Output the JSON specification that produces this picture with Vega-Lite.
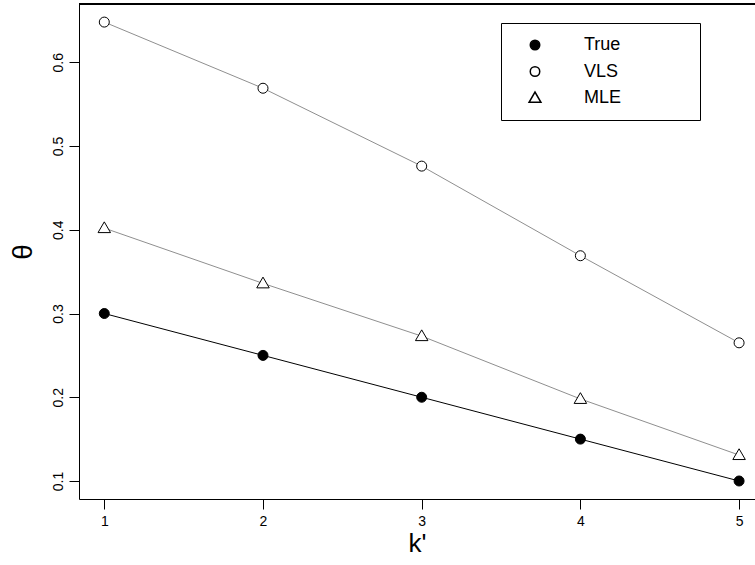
{
  "$schema": "https://vega.github.io/schema/vega-lite/v6.json",
  "width": 676,
  "height": 495,
  "autosize": {"type": "none"},
  "padding": {"left": 79, "top": 4, "right": 0, "bottom": 66},
  "background": "white",
  "config": {
    "view": {"stroke": null},
    "font": "Liberation Sans",
    "axis": {
      "grid": false,
      "domainColor": "black",
      "domainWidth": 1,
      "tickColor": "black",
      "tickWidth": 1,
      "tickSize": 10,
      "labelColor": "black",
      "labelFontSize": 14,
      "titleColor": "black",
      "titleFontWeight": "normal",
      "titleFont": "Liberation Sans"
    }
  },
  "data": {
    "values": [
      {"k": 1, "series": "True", "theta": 0.3},
      {"k": 2, "series": "True", "theta": 0.25},
      {"k": 3, "series": "True", "theta": 0.2},
      {"k": 4, "series": "True", "theta": 0.15},
      {"k": 5, "series": "True", "theta": 0.1},
      {"k": 1, "series": "VLS", "theta": 0.648},
      {"k": 2, "series": "VLS", "theta": 0.569},
      {"k": 3, "series": "VLS", "theta": 0.476},
      {"k": 4, "series": "VLS", "theta": 0.369},
      {"k": 5, "series": "VLS", "theta": 0.265},
      {"k": 1, "series": "MLE", "theta": 0.402},
      {"k": 2, "series": "MLE", "theta": 0.336},
      {"k": 3, "series": "MLE", "theta": 0.273},
      {"k": 4, "series": "MLE", "theta": 0.198},
      {"k": 5, "series": "MLE", "theta": 0.131}
    ]
  },
  "layer": [
    {
      "mark": {"type": "rule", "color": "black", "strokeWidth": 1},
      "encoding": {
        "y": {"datum": 0.6696, "type": "quantitative"}
      }
    },
    {
      "transform": [{"filter": "datum.series !== 'True'"}],
      "mark": {"type": "line", "strokeWidth": 1, "color": "#8f8f8f"},
      "encoding": {
        "x": {
          "field": "k",
          "type": "quantitative",
          "scale": {"domain": [0.8406, 5.1003], "nice": false, "zero": false},
          "axis": {
            "values": [1, 2, 3, 4, 5],
            "format": "d",
            "title": "k'",
            "titleFontSize": 26,
            "labelPadding": 5,
            "titlePadding": 2
          }
        },
        "y": {
          "field": "theta",
          "type": "quantitative",
          "scale": {"domain": [0.0785, 0.6696], "nice": false, "zero": false},
          "axis": {
            "values": [0.1, 0.2, 0.3, 0.4, 0.5, 0.6],
            "format": ".1f",
            "labelAngle": -90,
            "labelAlign": "center",
            "labelBaseline": "bottom",
            "labelPadding": 4,
            "title": "θ",
            "titleFontSize": 28,
            "titlePadding": 14
          }
        },
        "detail": {"field": "series", "type": "nominal"}
      }
    },
    {
      "transform": [{"filter": "datum.series === 'True'"}],
      "mark": {"type": "line", "strokeWidth": 1, "color": "black"},
      "encoding": {
        "x": {"field": "k", "type": "quantitative"},
        "y": {"field": "theta", "type": "quantitative"}
      }
    },
    {
      "mark": {"type": "point", "filled": true, "stroke": "black", "strokeWidth": 1, "opacity": 1, "size": 100},
      "encoding": {
        "x": {"field": "k", "type": "quantitative"},
        "y": {"field": "theta", "type": "quantitative"},
        "shape": {
          "field": "series",
          "type": "nominal",
          "scale": {"domain": ["True", "VLS", "MLE"], "range": ["circle", "circle", "M-1.25,0.9L1.25,0.9L0,-1.25Z"]},
          "legend": {
            "orient": "none",
            "legendX": 422,
            "legendY": 19,
            "title": null,
            "strokeColor": "black",
            "fillColor": "white",
            "padding": 13,
            "labelFontSize": 18,
            "labelColor": "black",
            "labelLimit": 400,
            "symbolSize": 90,
            "rowPadding": 8.5,
            "symbolOffset": 12,
            "labelOffset": 40,
            "labelExpr": "datum.label + '\u2800\u2800\u2800\u2800\u2800'",
            "encode": {
              "symbols": {
                "update": {
                  "stroke": {"value": "black"},
                  "strokeWidth": {"value": 1}
                }
              }
            }
          }
        },
        "fill": {
          "field": "series",
          "type": "nominal",
          "scale": {"domain": ["True", "VLS", "MLE"], "range": ["black", "white", "white"]}
        }
      }
    }
  ]
}
